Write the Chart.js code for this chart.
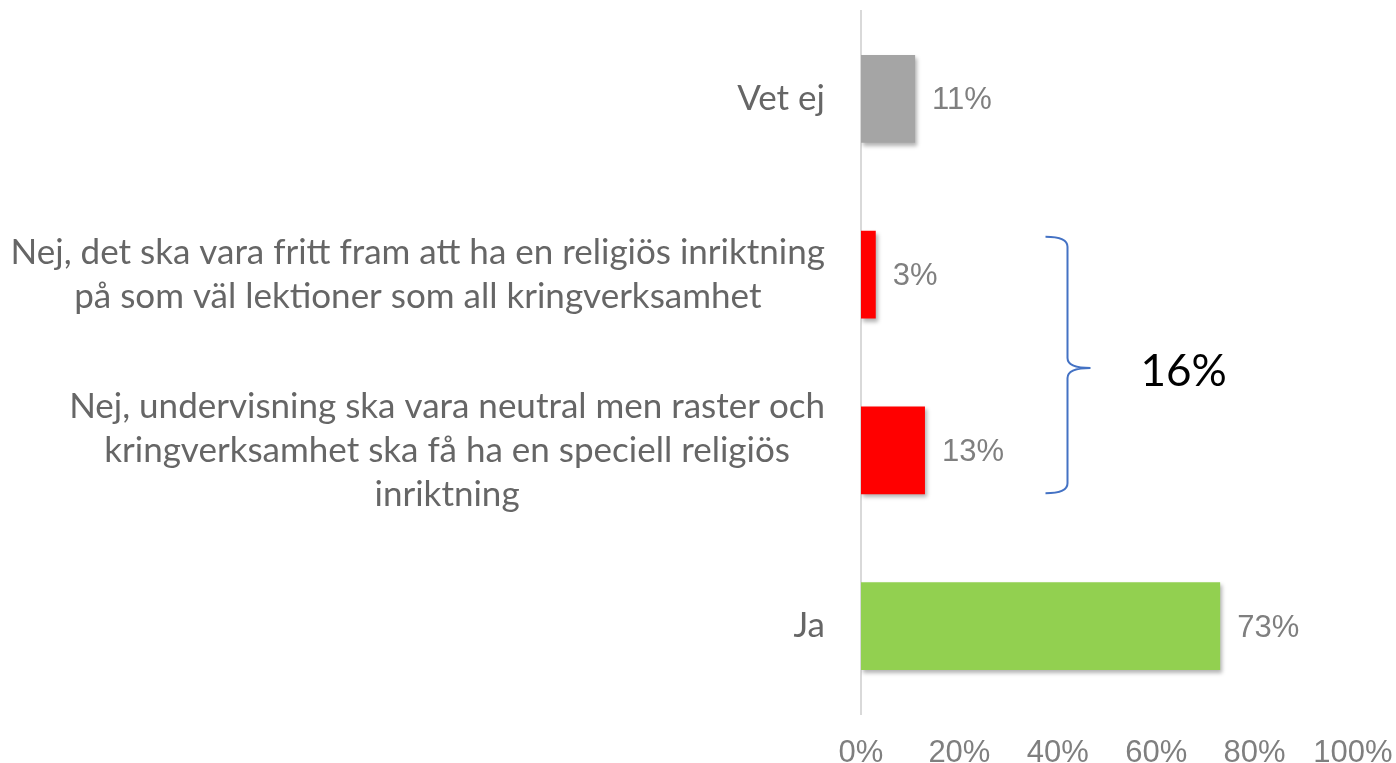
<!DOCTYPE html>
<html>
<head>
<meta charset="utf-8">
<script src="https://cdn.jsdelivr.net/npm/chart.js@4"></script>
<style>
  html, body { margin: 0; padding: 0; background: #fff; }
  #chart { display: block; }
</style>
</head>
<body>
<canvas id="chart" width="1396" height="763"></canvas>
<script>
const categories = [
  ['Vet ej'],
  ['Nej, det ska vara fritt fram att ha en religiös inriktning', 'på som väl lektioner som all kringverksamhet'],
  ['Nej, undervisning ska vara neutral men raster och', 'kringverksamhet ska få ha en speciell religiös', 'inriktning'],
  ['Ja']
];
const values = [11, 3, 13, 73];
const barColors = ['#a5a5a5', '#ff0000', '#ff0000', '#92d050'];
const xTicks = [0, 20, 40, 60, 80, 100];
const groupLabel = '16%';

const labelFont = '35px Lato, "Open Sans", sans-serif';
const valueFont = '31px "Liberation Sans", Arial, sans-serif';

const shadowPlugin = {
  id: 'shadow',
  beforeDatasetsDraw(chart) {
    const ctx = chart.ctx;
    ctx.save();
    ctx.shadowColor = 'rgba(0,0,0,0.3)';
    ctx.shadowBlur = 4;
    ctx.shadowOffsetX = 2;
    ctx.shadowOffsetY = 3;
  },
  afterDatasetsDraw(chart) {
    chart.ctx.restore();
  }
};

const labelsPlugin = {
  id: 'labels',
  afterDraw(chart) {
    const ctx = chart.ctx;
    const y = chart.scales.y;
    const x = chart.scales.x;
    const meta = chart.getDatasetMeta(0);

    // category labels: block right-aligned, lines centered to each other
    ctx.save();
    ctx.font = labelFont;
    ctx.fillStyle = '#666666';
    ctx.textAlign = 'center';
    ctx.textBaseline = 'middle';
    const right = chart.chartArea.left - 36;
    const lineH = 44;
    categories.forEach((lines, i) => {
      const cy = y.getPixelForValue(i);
      const w = Math.max(...lines.map(l => ctx.measureText(l).width));
      const cx = right - w / 2;
      const start = cy - (lines.length - 1) * lineH / 2;
      lines.forEach((l, j) => ctx.fillText(l, cx, start + j * lineH));
    });
    ctx.restore();

    // value labels
    ctx.save();
    ctx.font = valueFont;
    ctx.fillStyle = '#7f7f7f';
    ctx.textAlign = 'left';
    ctx.textBaseline = 'middle';
    meta.data.forEach((bar, i) => {
      ctx.fillText(values[i] + '%', bar.x + 17, bar.y + 2);
    });
    ctx.restore();

    // brace around the two "Nej" bars
    const b1 = meta.data[1], b2 = meta.data[2];
    const top = b1.y - b1.height / 2 + 6;
    const bot = b2.y + b2.height / 2 - 1;
    const mid = (top + bot) / 2 + 3;
    const x0 = x.getPixelForValue(37.5);
    const xv = x0 + 22;
    const xt = x0 + 45;
    ctx.save();
    ctx.strokeStyle = '#4472c4';
    ctx.lineWidth = 2;
    ctx.beginPath();
    ctx.moveTo(x0, top);
    ctx.quadraticCurveTo(xv, top, xv, top + 10);
    ctx.lineTo(xv, mid - 10);
    ctx.quadraticCurveTo(xv, mid, xt, mid);
    ctx.quadraticCurveTo(xv, mid, xv, mid + 10);
    ctx.lineTo(xv, bot - 10);
    ctx.quadraticCurveTo(xv, bot, x0, bot);
    ctx.stroke();

    ctx.font = '44px Lato, "Open Sans", sans-serif';
    ctx.fillStyle = '#000000';
    ctx.textAlign = 'left';
    ctx.textBaseline = 'middle';
    ctx.fillText(groupLabel, x0 + 95, mid + 4);
    ctx.restore();
  }
};

new Chart(document.getElementById('chart'), {
  type: 'bar',
  data: {
    labels: categories.map(c => c.join(' ')),
    datasets: [{
      data: values,
      backgroundColor: barColors,
      borderWidth: 0,
      barPercentage: 0.5,
      categoryPercentage: 1
    }]
  },
  options: {
    indexAxis: 'y',
    responsive: false,
    animation: false,
    layout: { padding: { top: 11, right: 43, left: 0, bottom: 0 } },
    plugins: {
      legend: { display: false },
      tooltip: { enabled: false }
    },
    scales: {
      x: {
        min: 0,
        max: 100,
        afterBuildTicks: axis => { axis.ticks = xTicks.map(v => ({ value: v })); },
        afterFit: axis => {
          axis.height = 49;
          axis.paddingLeft = 0;
          axis.paddingRight = 0;
        },
        grid: { display: false, drawTicks: false },
        border: { display: false },
        ticks: {
          padding: 21,
          color: '#7f7f7f',
          font: { family: '"Liberation Sans", Arial, sans-serif', size: 31 },
          callback: v => v + '%'
        }
      },
      y: {
        afterFit: axis => { axis.width = 861; },
        grid: { display: false, drawTicks: false },
        border: { display: true, color: '#d9d9d9', width: 2 },
        ticks: { display: false }
      }
    }
  },
  plugins: [shadowPlugin, labelsPlugin]
});
</script>
</body>
</html>
